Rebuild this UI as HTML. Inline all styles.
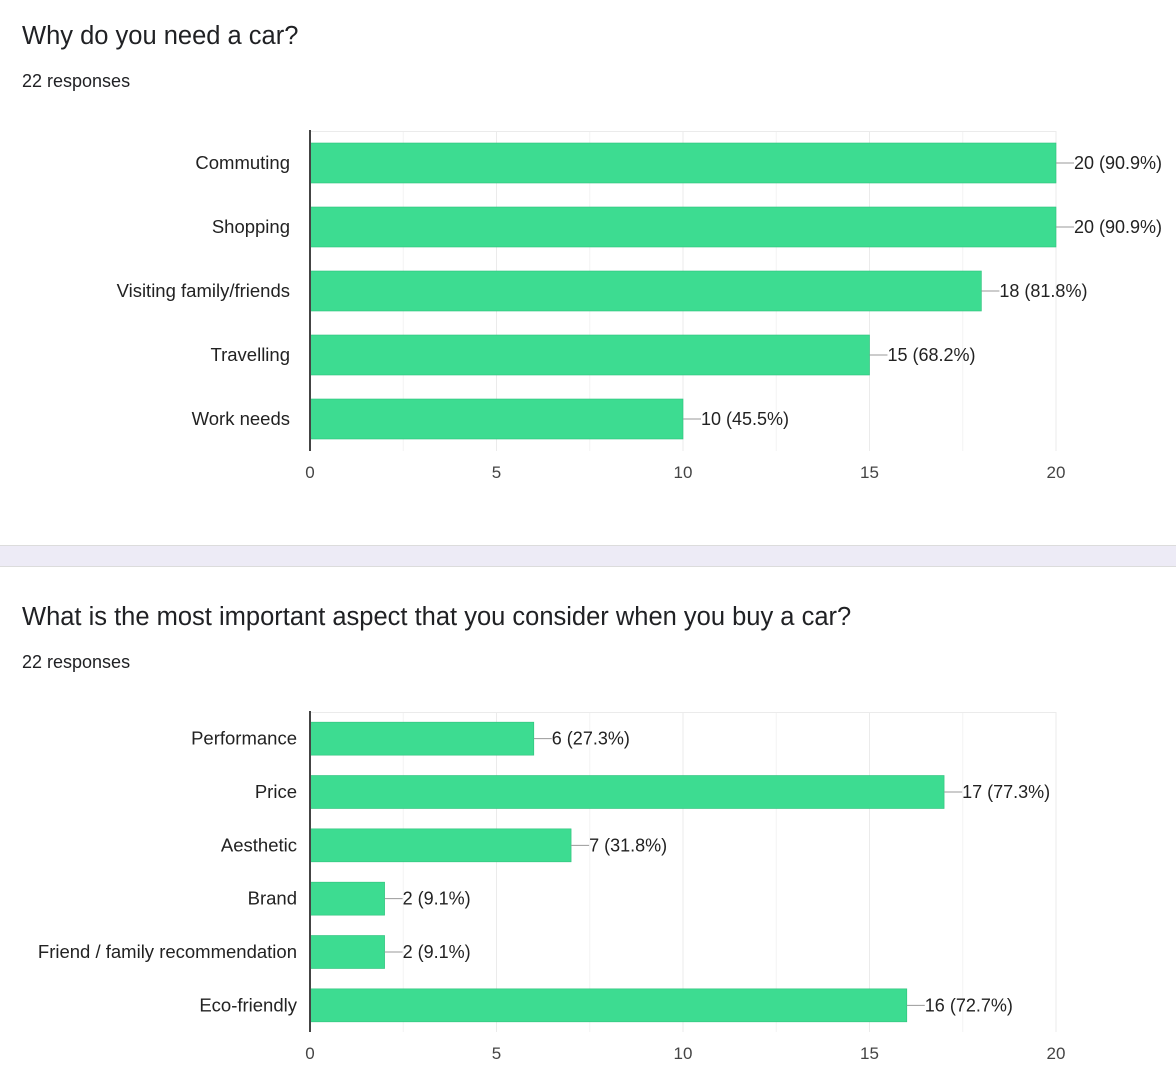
<!DOCTYPE html>
<html><head><meta charset="utf-8"><style>
body{margin:0;background:#fff;width:1176px;height:1077px;overflow:hidden;font-family:"Liberation Sans",sans-serif;}
svg{display:block}
</style></head><body>
<svg id="s" width="1176" height="1077" xmlns="http://www.w3.org/2000/svg">
<text x="22" y="44" font-size="25.5" fill="#202124">Why do you need a car?</text>
<text x="22" y="87" font-size="18" fill="#202124">22 responses</text>
<rect x="0" y="545" width="1176" height="22" fill="#edebf6"/>
<line x1="0" y1="545.5" x2="1176" y2="545.5" stroke="#dcdcdc"/>
<line x1="0" y1="566.5" x2="1176" y2="566.5" stroke="#dcdcdc"/>
<text x="22" y="625" font-size="25.5" fill="#202124">What is the most important aspect that you consider when you buy a car?</text>
<text x="22" y="668" font-size="18" fill="#202124">22 responses</text>
</svg>
<script>
const c1Categories=["Commuting","Shopping","Visiting family/friends","Travelling","Work needs"];
const c1Values=[20,20,18,15,10];
const c1Labels=["20 (90.9%)","20 (90.9%)","18 (81.8%)","15 (68.2%)","10 (45.5%)"];
const c2Categories=["Performance","Price","Aesthetic","Brand","Friend / family recommendation","Eco-friendly"];
const c2Values=[6,17,7,2,2,16];
const c2Labels=["6 (27.3%)","17 (77.3%)","7 (31.8%)","2 (9.1%)","2 (9.1%)","16 (72.7%)"];
const tickValues=[0,5,10,15,20];
const NS="http://www.w3.org/2000/svg",svg=document.getElementById('s');
function mk(t,a,p){const e=document.createElementNS(NS,t);for(const k in a)e.setAttribute(k,a[k]);(p||svg).appendChild(e);return e;}
function draw(id,cats,vals,labs,top,bottom,barH,labelRight){
  const x0=310,x1=1056,max=20;
  const xs=v=>x0+(x1-x0)*v/max;
  const g=mk('g',{});
  
  
  for(let v=2.5;v<=max;v+=2.5){
    const l=mk('line',{x1:xs(v),x2:xs(v),y1:top,y2:bottom,stroke:v%5?'#f3f3f3':'#ebebeb'},g);
    
    
  }
  const tl=mk('line',{x1:x0,x2:x1,y1:top+.5,y2:top+.5,stroke:'#ebebeb'},g);
  
  
  const band=(bottom-top)/cats.length;
  cats.forEach((c,i)=>{
    const cy=top+band*(i+.5);
    const r=mk('rect',{x:x0,y:cy-barH/2,width:xs(vals[i])-x0,height:barH,fill:'#3ddc91',stroke:'#2fc07c','stroke-width':.6},g);
    
    
    const t=mk('text',{x:labelRight,y:cy+6,'font-size':18.5,fill:'#222','text-anchor':'end'},g);
    t.textContent=c;
    
    
    const ex=xs(vals[i]);
    const ln=mk('line',{x1:ex,x2:ex+18,y1:cy,y2:cy,stroke:'#999'},g);
    
    
    const vt=mk('text',{x:ex+18,y:cy+6,'font-size':18,fill:'#222'},g);
    vt.textContent=labs[i];
    
    
  });
  const ax=mk('line',{x1:x0,x2:x0,y1:top-1,y2:bottom,stroke:'#444','stroke-width':2},g);
  
  
  tickValues.forEach(v=>{
    const t=mk('text',{x:xs(v),y:bottom+27,'font-size':17,fill:'#444','text-anchor':'middle'},g);
    t.textContent=v;
    
    
  });
}
draw('chart-why-need-car',c1Categories,c1Values,c1Labels,131,451,40,290);
draw('chart-important-aspect',c2Categories,c2Values,c2Labels,712,1032,33,297);
</script>
</body></html>
